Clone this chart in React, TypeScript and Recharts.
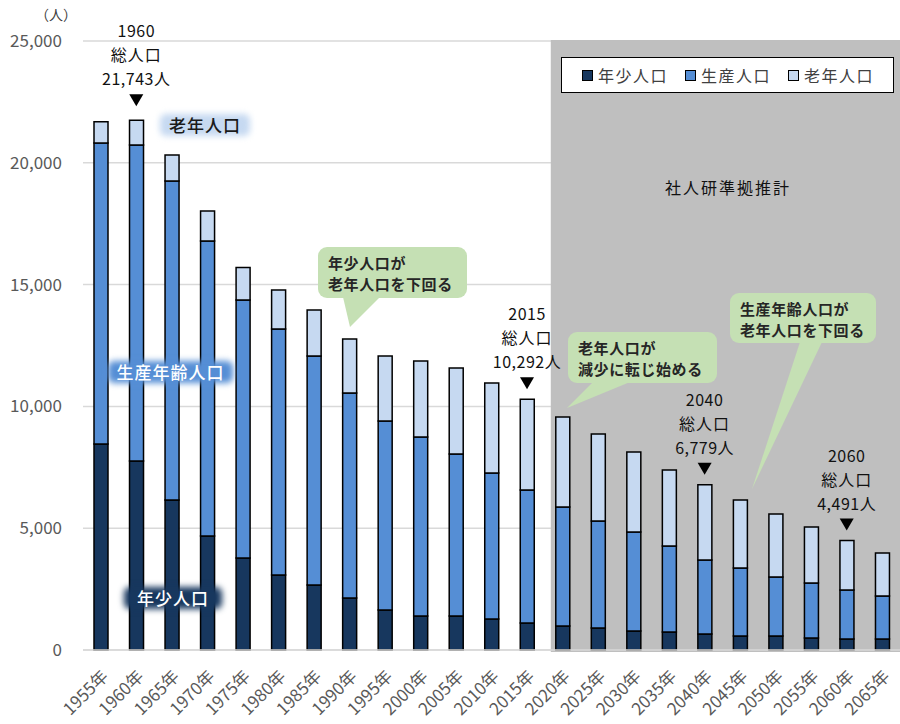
import {
  BarChart, Bar, XAxis, YAxis, CartesianGrid, ReferenceArea, ReferenceDot, Legend,
} from "recharts";

const FONT = '"Noto Sans CJK JP", "Noto Sans", sans-serif';

const years = [
  "1955年", "1960年", "1965年", "1970年", "1975年", "1980年", "1985年", "1990年",
  "1995年", "2000年", "2005年", "2010年", "2015年", "2020年", "2025年", "2030年",
  "2035年", "2040年", "2045年", "2050年", "2055年", "2060年", "2065年",
];
// 年少人口
const youngPop = [
  8460, 7760, 6160, 4680, 3780, 3080, 2670, 2130, 1640, 1400, 1400, 1270,
  1110, 990, 900, 780, 740, 660, 575, 575, 490, 450, 450,
];
// 生産年齢人口
const workingPop = [
  12350, 12970, 13090, 12110, 10590, 10100, 9400, 8420, 7760, 7340, 6650, 6000,
  5460, 4880, 4400, 4060, 3530, 3030, 2795, 2425, 2260, 2010, 1770,
];
// 老年人口
const elderlyPop = [
  880, 1013, 1070, 1230, 1330, 1600, 1890, 2220, 2670, 3120, 3530, 3690,
  3722, 3690, 3570, 3290, 3120, 3089, 2790, 2580, 2300, 2031, 1760,
];
const yTicks = [0, 5000, 10000, 15000, 20000, 25000];

// 総人口の注記
const totalYears = ["1960年", "2015年", "2040年", "2060年"];
const totalValues = [21743, 10292, 6779, 4491];

const projectionStart = "2020年";
const projectionEnd = "2065年";

const data = years.map((year, i) => ({
  year,
  young: youngPop[i],
  working: workingPop[i],
  elderly: elderlyPop[i],
}));

// 1960 の注記だけ少し上に置かれている
const markLift: Record<string, number> = { "1960年": 4 };

function TotalMark({ cx, cy, year, total }: { cx: number; cy: number; year: string; total: number }) {
  const y = cy - (markLift[year] ?? 0);
  return (
    <g fontFamily={FONT} fontSize={16} fill="#111" textAnchor="middle">
      <path d={`M${cx - 7},${y - 22} L${cx + 7},${y - 22} L${cx},${y - 10} Z`} fill="#000" />
      <text x={cx} y={y - 31} letterSpacing={0.5}>{total.toLocaleString()}人</text>
      <text x={cx} y={y - 55} letterSpacing={1}>総人口</text>
      <text x={cx} y={y - 79} letterSpacing={0.5}>{year.replace("年", "")}</text>
    </g>
  );
}

function renderLegend(props: any) {
  const items = props.payload ?? [];
  return (
    <div
      style={{
        width: 333, height: 36, boxSizing: "border-box", border: "1.5px solid #000",
        background: "#fff", display: "flex", alignItems: "center", paddingLeft: 20,
        fontFamily: FONT, fontSize: 16, color: "#404040", letterSpacing: 1.5,
      }}
    >
      {items.map((it: any) => (
        <span key={it.value} style={{ display: "flex", alignItems: "center", marginRight: 17 }}>
          <span
            style={{
              width: 9, height: 9, background: it.color, border: "1px solid #000",
              marginRight: 5, display: "inline-block",
            }}
          />
          {it.value}
        </span>
      ))}
    </div>
  );
}

function GlowLabel({ left, top, width, text, bg, color }: any) {
  return (
    <div style={{ position: "absolute", left, top, width, height: 22 }}>
      <div
        style={{
          position: "absolute", inset: 0, background: bg, borderRadius: 6, filter: "blur(3px)",
        }}
      />
      <div
        style={{
          position: "relative", textAlign: "center", lineHeight: "22px", fontSize: 17,
          fontWeight: 500, letterSpacing: 1, color, fontFamily: FONT,
        }}
      >
        {text}
      </div>
    </div>
  );
}

function Callout({ x, y, w, h, pointer, lines }: any) {
  return (
    <g>
      <rect x={x} y={y} width={w} height={h} rx={9} fill="#C5E0B4" />
      <path d={`M${pointer[0]},${y + h - 1} L${pointer[1]},${y + h - 1} L${pointer[2]},${pointer[3]} Z`} fill="#C5E0B4" />
      {lines.map((t: string, i: number) => (
        <text key={t} x={x + 10} y={y + 22 + i * 21} fontSize={15} fontWeight={700} fill="#262626" letterSpacing={0.6}>
          {t}
        </text>
      ))}
    </g>
  );
}

export default function App() {
  return (
    <div style={{ position: "absolute", left: 0, top: 0, width: 900, height: 724, fontFamily: FONT }}>
      <BarChart width={900} height={724} data={data} margin={{ top: 41, right: 0, bottom: 0, left: 0 }} barSize={14}>
        <ReferenceArea
          x1={projectionStart}
          x2={projectionEnd}
          y1={0}
          y2={25000}
          shape={(p: any) => (
            <rect x={p.x + 6} y={p.y - 1} width={p.width - 6} height={p.height + 3} fill="#BFBFBF" />
          )}
        />
        <CartesianGrid vertical={false} stroke="#D9D9D9" strokeWidth={1.5} />
        <XAxis
          dataKey="year"
          interval={0}
          angle={-45}
          textAnchor="end"
          height={74}
          tickLine={false}
          tickSize={0}
          tickMargin={19}
          axisLine={{ stroke: "#D9D9D9", strokeWidth: 1.5 }}
          tick={{ fill: "#595959", fontSize: 17, fontFamily: FONT }}
        />
        <YAxis
          domain={[0, 25000]}
          ticks={yTicks}
          width={83}
          axisLine={false}
          tickLine={false}
          tickSize={0}
          tickMargin={21}
          tickFormatter={(v: number) => v.toLocaleString()}
          tick={{ fill: "#595959", fontSize: 17, fontFamily: FONT }}
        />
        <Legend
          layout="vertical"
          align="center"
          verticalAlign="middle"
          content={renderLegend}
          wrapperStyle={{ left: 561, top: 57, width: 333 }}
        />
        <Bar dataKey="young" name="年少人口" stackId="a" fill="#17375E" stroke="#000" strokeWidth={1.5} isAnimationActive={false} />
        <Bar dataKey="working" name="生産人口" stackId="a" fill="#558ED5" stroke="#000" strokeWidth={1.5} isAnimationActive={false} />
        <Bar dataKey="elderly" name="老年人口" stackId="a" fill="#C6D9F1" stroke="#000" strokeWidth={1.5} isAnimationActive={false} />
        {totalYears.map((yr, i) => (
          <ReferenceDot
            key={yr}
            x={yr}
            y={totalValues[i]}
            r={0}
            shape={(p: any) => <TotalMark cx={p.cx} cy={p.cy} year={yr} total={totalValues[i]} />}
          />
        ))}
      </BarChart>

      <svg
        width={900}
        height={724}
        style={{ position: "absolute", left: 0, top: 0, pointerEvents: "none", fontFamily: FONT }}
      >
        <text x={56} y={20} fontSize={14} fill="#404040" textAnchor="middle">（人）</text>
        <text x={728} y={194} fontSize={16} fill="#111" textAnchor="middle" letterSpacing={2}>社人研準拠推計</text>
        <Callout x={318} y={247} w={149} h={51} pointer={[343, 380, 350, 327]} lines={["年少人口が", "老年人口を下回る"]} />
        <Callout x={568} y={332} w={149} h={51} pointer={[593, 630, 567, 408]} lines={["老年人口が", "減少に転じ始める"]} />
        <Callout x={730} y={293} w={146} h={50} pointer={[800, 822, 752, 489]} lines={["生産年齢人口が", "老年人口を下回る"]} />
      </svg>

      <GlowLabel left={160} top={114} width={90} text="老年人口" bg="#C6D9F1" color="#1a1a1a" />
      <GlowLabel left={108} top={361} width={125} text="生産年齢人口" bg="#558ED5" color="#fff" />
      <GlowLabel left={124} top={587} width={98} text="年少人口" bg="#17375E" color="#fff" />
    </div>
  );
}
